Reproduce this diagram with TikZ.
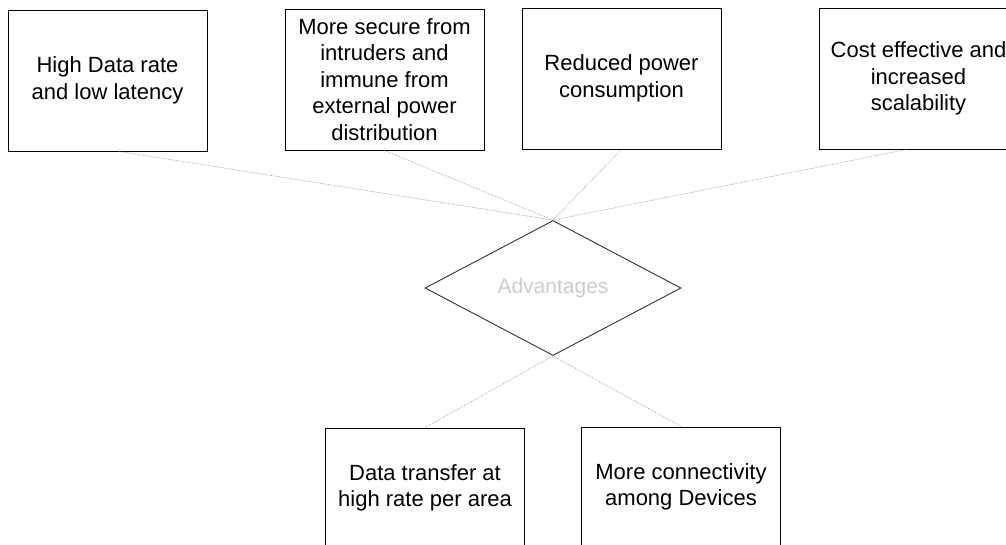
\documentclass[tikz,border=0pt]{standalone}
\usepackage{fontspec}
\setmainfont{Liberation Sans}
\usetikzlibrary{shapes.geometric,calc}
\tikzset{
  itembox/.style={draw=black, line width=1pt, minimum width=199pt, minimum height=141pt,
    inner sep=2pt, align=center, font=\fontsize{22}{26.5}\selectfont},
  lowbox/.style={itembox, minimum height=120pt},
  hub/.style={diamond, draw=black!80, line width=0.9pt, minimum width=256pt, minimum height=135pt,
    inner sep=0pt, text=black!20, font=\fontsize{21}{25}\selectfont},
  link/.style={draw=black!45, line width=0.6pt, densely dotted}
}
\begin{document}
\begin{tikzpicture}[x=1pt, y=-1pt]
  \useasboundingbox (0,0) rectangle (1006,544);

  % central decision shape
  \node[hub] (adv) at (553,288) {Advantages};

  % upper row of benefits
  \node[itembox] (b1) at (107.5,80.5) {High Data rate\\and low latency};
  \node[itembox] (b2) at (384.5,79.5) {More secure from\\intruders and\\immune from\\external power\\distribution};
  \node[itembox] (b3) at (621.5,78.5) {Reduced power\\consumption};
  \node[itembox] (b4) at (918.5,78.5) {Cost effective and\\increased\\scalability};

  % lower row of benefits
  \node[lowbox] (b5) at (425,488) {Data transfer at\\high rate per area};
  \node[lowbox] (b6) at (681,487) {More connectivity\\among Devices};

  % connectors
  \draw[link] ($(b1.south west)!0.56!(b1.south east)$) -- (adv.north);
  \draw[link] (b2.south) -- (adv.north);
  \draw[link] (b3.south) -- (adv.north);
  \draw[link] ($(b4.south west)!0.44!(b4.south east)$) -- (adv.north);
  \draw[link] (b5.north) -- (adv.south);
  \draw[link] (b6.north) -- (adv.south);
\end{tikzpicture}
\end{document}
